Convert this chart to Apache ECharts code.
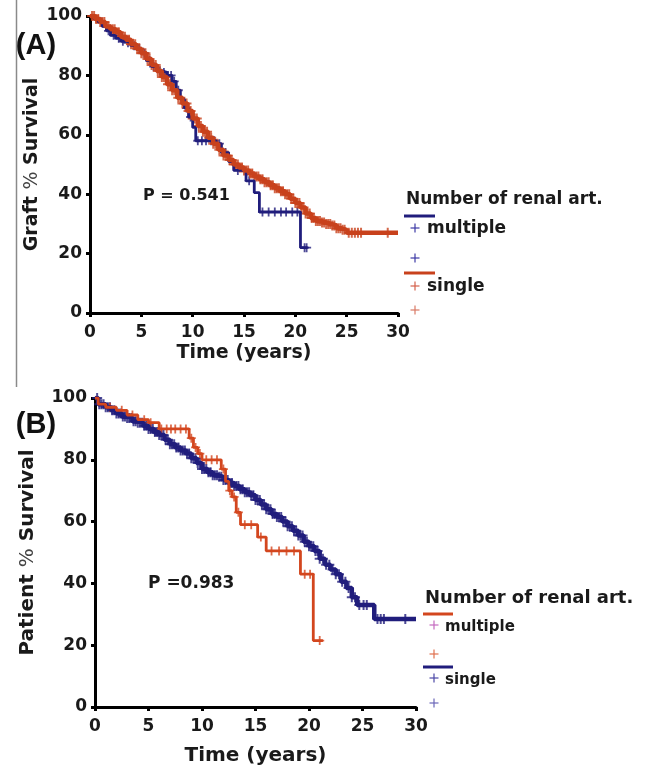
<!DOCTYPE html>
<html><head><meta charset="utf-8">
<script src="https://cdn.jsdelivr.net/npm/echarts@6/dist/echarts.min.js"></script>
<style>html,body{margin:0;padding:0;background:#fff}#c{width:648px;height:767px}</style>
</head><body><div id="c"></div>
<script>
// ---------- data ----------
const xTicks = [0, 5, 10, 15, 20, 25, 30];
const yTicks = [0, 20, 40, 60, 80, 100];

// (A) Graft survival, Kaplan-Meier steps [years, %]
const graftMultipleSteps = [[0,100],[0.4,99],[0.8,98],[1.2,96.5],[1.6,95],[2,93.5],[2.5,92.5],[3,91.5],[3.5,91],[4,90],[4.5,89],[5,87.5],[5.5,85],[6,83],[6.5,81.5],[7,81],[7.5,80],[8,78],[8.4,75],[8.8,72],[9.2,69],[9.6,66],[10,62.5],[10.3,58],[12.3,57],[12.8,54],[13.5,51],[14,48],[15.2,44.5],[16,40.5],[16.5,34],[20.5,22],[21.2,22]];
const graftMultipleCensor = [1.1,1.8,2.3,2.8,3.2,3.7,4.3,4.8,5.3,5.8,6.2,6.8,7.2,7.6,7.9,8.2,8.6,9.4,9.8,10.5,10.9,11.3,11.8,12.1,12.6,13.2,14.4,15.5,16.8,17.4,18.0,18.6,19.1,19.7,20.2,20.9,21.1];
const graftSingleSteps = [[0,100],[0.5,99],[1,98],[1.5,96.5],[2,95.5],[2.5,94.5],[3,93],[3.5,92],[4,90.5],[4.5,89],[5,87.5],[5.5,85.5],[6,83.5],[6.5,81.5],[7,79.5],[7.5,77],[8,75],[8.5,72.5],[9,70.5],[9.5,68],[10,65.5],[10.5,63],[11,61],[11.5,59],[12,57],[12.5,55],[13,53],[13.5,51.5],[14,50],[14.5,49],[15,48],[15.5,47],[16,46],[16.5,45],[17,44],[17.5,43],[18,42],[18.5,41],[19,40],[19.5,38.5],[20,37],[20.5,35.5],[21,33.5],[21.5,32],[22,31],[22.5,30.5],[23,30],[23.5,29.5],[24,28.5],[24.5,28],[25,27],[30,27]];
const graftSingleCensor = [0.2,0.4,0.6,0.8,1.0,1.2,1.4,1.6,1.8,2.0,2.2,2.4,2.6,2.8,3.0,3.2,3.4,3.6,3.8,4.0,4.2,4.4,4.6,4.8,5.0,5.2,5.4,5.6,5.8,6.0,6.2,6.4,6.6,6.8,7.0,7.2,7.4,7.6,7.8,8.0,8.2,8.4,8.6,8.8,9.0,9.2,9.4,9.6,9.8,10.0,10.2,10.4,10.6,10.8,11.0,11.2,11.4,11.6,11.8,12.0,12.2,12.4,12.6,12.8,13.0,13.2,13.4,13.6,13.8,14.0,14.2,14.4,14.6,14.8,15.0,15.2,15.4,15.6,15.8,16.0,16.2,16.4,16.6,16.8,17.0,17.2,17.4,17.6,17.8,18.0,18.2,18.4,18.6,18.8,19.0,19.2,19.4,19.6,19.8,20.0,20.2,20.4,20.6,20.8,21.0,21.2,21.4,21.6,21.8,22.0,22.2,22.4,22.6,22.8,23.0,23.2,23.4,23.6,23.8,24.0,24.2,24.4,24.6,24.8,25.2,25.5,25.8,26.1,26.4,29.0];

// (B) Patient survival
const patientSingleSteps = [[0,100],[0.3,98],[1,97],[1.5,96],[2,95],[2.5,94],[3,93.5],[3.5,92.5],[4,92],[4.5,91],[5,90],[5.5,89],[6,88],[6.5,86.5],[7,85],[7.5,84],[8,83],[8.5,82],[9,80.5],[9.5,79],[10,77],[10.5,76],[11,75],[11.5,74.5],[12,73.5],[12.5,72.5],[13,71.5],[13.5,70.5],[14,69.5],[14.5,68.5],[15,67],[15.5,65.5],[16,64],[16.5,62.5],[17,61.5],[17.5,60],[18,58.5],[18.5,57],[19,55.5],[19.5,53.5],[20,52],[20.5,50.5],[21,48],[21.5,46],[22,44.5],[22.5,43],[23,40.5],[23.5,38.5],[24,35.5],[24.5,33],[26.1,28.5],[30,28.5]];
const patientSingleCensor = [0.2,0.4,0.6,0.8,1.0,1.2,1.4,1.6,1.8,2.0,2.2,2.4,2.6,2.8,3.0,3.2,3.4,3.6,3.8,4.0,4.2,4.4,4.6,4.8,5.0,5.2,5.4,5.6,5.8,6.0,6.2,6.4,6.6,6.8,7.0,7.2,7.4,7.6,7.8,8.0,8.2,8.4,8.6,8.8,9.0,9.2,9.4,9.6,9.8,10.0,10.2,10.4,10.6,10.8,11.0,11.2,11.4,11.6,11.8,12.0,12.2,12.4,12.6,12.8,13.0,13.2,13.4,13.6,13.8,14.0,14.2,14.4,14.6,14.8,15.0,15.2,15.4,15.6,15.8,16.0,16.2,16.4,16.6,16.8,17.0,17.2,17.4,17.6,17.8,18.0,18.2,18.4,18.6,18.8,19.0,19.2,19.4,19.6,19.8,20.0,20.2,20.4,20.6,20.8,21.0,21.3,21.6,21.9,22.2,22.5,22.8,23.1,23.4,23.7,24.0,24.3,24.7,25.1,25.4,26.4,26.7,27.0,29.0];
const patientMultipleSteps = [[0,100],[0.3,98],[1,97],[2,96],[3,94.5],[4,93],[5,92],[6,90],[8.8,87],[9.2,84],[9.6,82],[10,80],[11.8,77],[12.2,73],[12.5,70],[12.8,68],[13.2,63],[13.6,59],[15.2,55],[16,50.5],[19.2,43],[20.4,21.5],[21.3,21.5]];
const patientMultipleCensor = [1.4,2.5,3.5,4.6,5.2,6.2,6.7,7.1,7.5,8.0,8.5,9.0,9.4,9.8,10.4,10.9,11.4,12.0,12.6,13.0,13.4,14.0,14.6,15.5,16.5,17.2,17.9,18.6,19.6,20.1,21.0];

const pValueA = 'P = 0.541';
const pValueB = 'P =0.983';

// ---------- helpers ----------
const NAVY = '#201d7c', RED = '#c8411c', RED2 = '#d3461e';
const FONT = '"DejaVu Sans", Arial, sans-serif';
const CROSS = 'path://M4,0h2v4h4v2h-4v4h-2v-4h-4v-2h4z';

function survAt(steps, t) {
  let v = steps[0][1];
  for (const s of steps) { if (s[0] <= t) v = s[1]; else break; }
  return v;
}
function censorPoints(steps, times) { return times.map(t => [t, survAt(steps, t)]); }

function xAxis(gi, gap, size) {
  return {
    type: 'value', gridIndex: gi, min: xTicks[0], max: xTicks[xTicks.length - 1], interval: 5,
    axisLine: { show: true, onZero: false, lineStyle: { color: '#000', width: 3, cap: 'round' } },
    axisTick: { show: true, length: 4, lineStyle: { color: '#000', width: 3 } },
    splitLine: { show: false },
    axisLabel: { fontFamily: FONT, fontWeight: 'bold', fontSize: 17, color: '#1a1a1a', margin: 11 },
    name: 'Time (years)', nameLocation: 'middle', nameGap: gap,
    nameTextStyle: { fontFamily: FONT, fontWeight: 'bold', fontSize: size, color: '#1a1a1a' }
  };
}
function yAxis(gi, name, gap, size) {
  return {
    type: 'value', gridIndex: gi, min: yTicks[0], max: yTicks[yTicks.length - 1], interval: 20,
    axisLine: { show: true, onZero: false, lineStyle: { color: '#000', width: 3, cap: 'round' } },
    axisTick: { show: true, length: 4, lineStyle: { color: '#000', width: 3 } },
    splitLine: { show: false },
    axisLabel: { fontFamily: FONT, fontWeight: 'bold', fontSize: 17, color: '#1a1a1a', margin: 8 },
    name: name, nameLocation: 'middle', nameGap: gap, nameRotate: 90,
    nameTextStyle: {
      fontFamily: FONT, fontWeight: 'bold', fontSize: size, color: '#1a1a1a',
      rich: {
        b: { fontFamily: FONT, fontWeight: 'bold', fontSize: size, color: '#1a1a1a' },
        n: { fontFamily: FONT, fontWeight: 'normal', fontSize: size, color: '#444' }
      }
    }
  };
}
function curve(gi, data, color, w) {
  return { type: 'line', xAxisIndex: gi, yAxisIndex: gi, data: data, step: 'end', showSymbol: false,
    symbol: 'none', lineStyle: { color: color, width: w }, silent: true, animation: false };
}
function censor(gi, data, color, size) {
  return { type: 'scatter', xAxisIndex: gi, yAxisIndex: gi, data: data, symbol: CROSS,
    symbolSize: size, itemStyle: { color: color }, silent: true, animation: false };
}
function plus(x, y, color, s) {
  return [
    { type: 'line', shape: { x1: x - s, y1: y, x2: x + s, y2: y }, style: { stroke: color, lineWidth: 1.2 } },
    { type: 'line', shape: { x1: x, y1: y - s, x2: x, y2: y + s }, style: { stroke: color, lineWidth: 1.2 } }
  ];
}
function txt(x, y, text, size, weight, color, align, family) {
  return { type: 'text', x: x, y: y, style: { text: text, font: (weight || 'bold') + ' ' + size + 'px ' + (family || FONT),
    fill: color || '#1a1a1a', textAlign: align || 'left', textVerticalAlign: 'middle', verticalAlign: 'middle' } };
}
function hline(x1, x2, y, color, w) {
  return { type: 'line', shape: { x1: x1, y1: y, x2: x2, y2: y }, style: { stroke: color, lineWidth: w || 3 } };
}

const chart = echarts.init(document.getElementById('c'), null, { renderer: 'canvas' });
chart.setOption({
  animation: false,
  backgroundColor: '#fff',
  grid: [
    { left: 90, top: 16, width: 308, height: 297 },
    { left: 95, top: 398, width: 321, height: 310 }
  ],
  xAxis: [xAxis(0, 31, 19), xAxis(1, 39, 20)],
  yAxis: [
    yAxis(0, '{b|Graft }{n|%}{b| Survival}', 48, 19),
    yAxis(1, '{b|Patient }{n|%}{b| Survival}', 57, 20)
  ],
  series: [
    curve(0, graftMultipleSteps, NAVY, 2.8),
    censor(0, censorPoints(graftMultipleSteps, graftMultipleCensor), NAVY, 9),
    curve(0, graftSingleSteps, RED, 4.5),
    censor(0, censorPoints(graftSingleSteps, graftSingleCensor), RED, 10),
    curve(1, patientSingleSteps, NAVY, 4.5),
    censor(1, censorPoints(patientSingleSteps, patientSingleCensor), NAVY, 10),
    curve(1, patientMultipleSteps, RED2, 2.8),
    censor(1, censorPoints(patientMultipleSteps, patientMultipleCensor), RED2, 9)
  ],
  graphic: [
    { type: 'line', shape: { x1: 16.5, y1: 0, x2: 16.5, y2: 387 }, style: { stroke: '#8a8a8a', lineWidth: 1.5 } },
    txt(36, 46, '(A)', 29, 'bold', '#111', 'center', '"Liberation Sans", Arial, sans-serif'),
    txt(36, 425, '(B)', 29, 'bold', '#111', 'center', '"Liberation Sans", Arial, sans-serif'),
    txt(143, 196, pValueA, 16, 'bold'),
    txt(148, 584, pValueB, 17, 'bold'),
    // legend A
    txt(406, 200, 'Number of renal art.', 17, 'bold'),
    hline(404, 435, 216, NAVY, 3),
    ...plus(415, 228, '#3d39a6', 4.5),
    txt(427, 229, 'multiple', 17, 'bold'),
    ...plus(415, 258, '#3d39a6', 4.5),
    hline(404, 435, 273, RED, 3),
    ...plus(415, 286, '#d4604a', 4.5),
    txt(427, 287, 'single', 17, 'bold'),
    ...plus(415, 310, '#d97a66', 4.5),
    // legend B
    txt(425, 598, 'Number of renal art.', 18, 'bold'),
    hline(423, 453, 614, RED2, 3),
    ...plus(434, 625, '#c56ac0', 4.5),
    txt(445, 627, 'multiple', 15, 'bold'),
    ...plus(434, 654, '#e0704e', 4.5),
    hline(423, 453, 667, NAVY, 3),
    ...plus(434, 678, '#4b47a6', 4.5),
    txt(445, 680, 'single', 15, 'bold'),
    ...plus(434, 703, '#6a66b8', 4.5)
  ]
});
</script>
</body></html>
